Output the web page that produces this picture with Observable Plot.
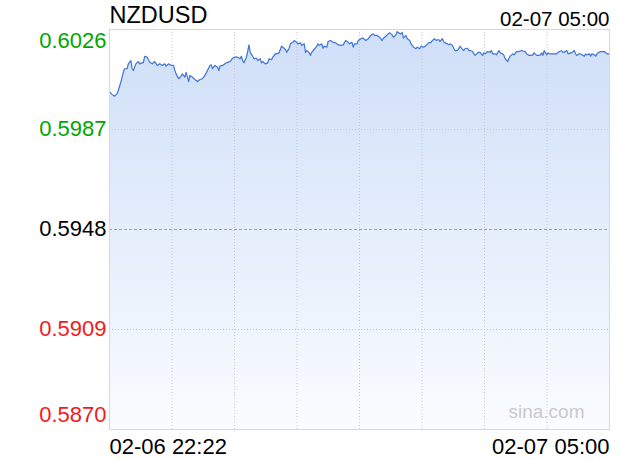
<!DOCTYPE html>
<html><head><meta charset="utf-8">
<script src="https://cdn.jsdelivr.net/npm/d3@7"></script>
<script src="https://cdn.jsdelivr.net/npm/@observablehq/plot@0.6"></script>
<style>html,body{margin:0;padding:0;background:#fff}</style>
</head><body><div id="chart"></div>
<script>
const symbol = "NZDUSD";
const startLabel = "02-06 22:22";
const endLabel = "02-07 05:00";
const watermark = "sina.com";
const prevClose = 0.5948;
const yTicks = [0.6026, 0.5987, 0.5948, 0.5909, 0.5870];

// minutes after 02-06 22:22
const minutesFromStart = [
0,2,4,6,7,9,11,12,14,15,17,18,19,21,23,24,27,28,30,32,34,36,38,40,42,44,45,47,49,51,52,53,55,57,58,60,61,63,64,66,68,70,72,74,76,78,80,81,82,84,86,87,88,90,92,94,96,98,100,
102,104,105,106,107,109,110,111,112,114,115,117,118,120,121,122,124,126,127,129,130,132,133,135,137,139,140,141,143,144,146,147,149,150,152,153,155,156,157,159,160,161,163,165,166,167,169,170,171,173,174,176,178,180,182,184,186,188,190,191,193,194,195,
197,198,201,202,204,206,208,210,211,213,215,217,218,220,222,223,225,226,228,229,230,232,233,234,236,237,239,240,242,244,245,247,248,250,252,254,256,257,259,260,262,263,265,266,267,269,270,271,273,274,275,277,278,279,281,282,283,285,286,287,289,290,291,293,294,
295,297,298,299,301,303,304,305,307,308,310,311,313,314,315,317,318,319,321,322,324,326,328,330,331,332,334,336,337,338,340,342,343,344,345,346,348,349,350,352,354,356,358,360,361,362,364,365,367,368,370,371,372,374,375,376,378,379,380,382,383,384,386,387,388,389,391,393,394,396,397,398
];
const prices = [
.60016,.60007,.60000,.60009,.60022,.60054,.60093,.60107,.60107,.60126,.60139,.60107,.60100,.60126,.60135,.60126,.60132,.60155,.60152,.60132,.60126,.60135,.60120,.60126,.60120,.60126,.60117,.60126,.60120,.60120,.60100,.60087,.60068,.60078,.60087,.60074,.60093,.60057,.60081,.60074,.60065,.60057,.60065,.60068,.60081,.60100,.60120,.60122,.60107,.60120,.60113,.60100,.60117,.60120,.60126,.60132,.60135,.60148,.60152,
.60152,.60146,.60156,.60139,.60130,.60152,.60174,.60200,.60171,.60156,.60146,.60148,.60139,.60146,.60130,.60135,.60126,.60130,.60146,.60142,.60152,.60165,.60165,.60169,.60195,.60187,.60182,.60171,.60187,.60204,.60210,.60217,.60210,.60204,.60208,.60198,.60204,.60171,.60178,.60169,.60159,.60171,.60182,.60195,.60204,.60198,.60204,.60187,.60195,.60191,.60213,.60217,.60210,.60208,.60200,.60198,.60200,.60217,.60210,.60204,.60210,.60191,.60204,
.60204,.60217,.60226,.60226,.60217,.60224,.60237,.60243,.60237,.60237,.60230,.60217,.60226,.60234,.60243,.60247,.60239,.60230,.60239,.60252,.60247,.60243,.60249,.60226,.60237,.60224,.60217,.60204,.60191,.60185,.60191,.60185,.60195,.60191,.60198,.60208,.60210,.60217,.60224,.60217,.60221,.60213,.60224,.60213,.60208,.60204,.60200,.60204,.60198,.60187,.60178,.60178,.60185,.60195,.60182,.60178,.60185,.60187,.60178,.60178,.60174,.60165,.60159,.60169,.60171,
.60171,.60159,.60169,.60165,.60174,.60171,.60178,.60165,.60165,.60161,.60178,.60169,.60165,.60159,.60146,.60135,.60148,.60156,.60165,.60161,.60174,.60174,.60178,.60174,.60174,.60165,.60159,.60159,.60161,.60169,.60159,.60159,.60161,.60169,.60159,.60178,.60161,.60169,.60165,.60165,.60165,.60165,.60174,.60177,.60171,.60171,.60178,.60165,.60169,.60169,.60178,.60165,.60159,.60165,.60165,.60161,.60156,.60165,.60161,.60165,.60156,.60165,.60161,.60156,.60165,.60169,.60174,.60174,.60174,.60165,.60165,.60165
];

const start = new Date(2024, 1, 6, 22, 22);
const end = new Date(2024, 1, 7, 5, 0);
const data = minutesFromStart.map((m, i) => ({t: new Date(+start + m * 60000), v: prices[i]}));
const yMin = d3.min(yTicks), yMax = d3.max(yTicks);
const gridTimes = d3.range(1, 8).map(i => new Date(+start + (end - start) * i / 8));
const tickColor = v => v > prevClose ? "#00a600" : v < prevClose ? "#f21a1a" : "#000000";

const gradientDefs = () => {
  const ns = "http://www.w3.org/2000/svg";
  const defs = document.createElementNS(ns, "defs");
  const g = document.createElementNS(ns, "linearGradient");
  g.setAttribute("id", "areaGrad");
  g.setAttribute("x1", "0"); g.setAttribute("y1", "0");
  g.setAttribute("x2", "0"); g.setAttribute("y2", "1");
  [["0", "#cfdff8"], ["1", "#fafcff"]].forEach(([o, c]) => {
    const s = document.createElementNS(ns, "stop");
    s.setAttribute("offset", o); s.setAttribute("stop-color", c);
    g.appendChild(s);
  });
  defs.appendChild(g);
  return defs;
};

const font = "'Liberation Sans', Arial, Helvetica, sans-serif";
const chart = Plot.plot({
  width: 620,
  height: 460,
  marginTop: 29,
  marginRight: 11,
  marginBottom: 31,
  marginLeft: 109,
  style: {fontFamily: font, background: "#fff", overflow: "visible"},
  x: {type: "time", domain: [start, end], axis: null},
  y: {domain: [yMin, yMax], axis: null},
  marks: [
    gradientDefs,
    Plot.areaY(data, {x: "t", y1: yMin, y2: "v", fill: "url(#areaGrad)"}),
    Plot.ruleX(gridTimes, {stroke: "#c8c8c8", strokeDasharray: "1,2"}),
    Plot.ruleY(yTicks.filter(v => v !== prevClose && v !== yMin && v !== yMax), {stroke: "#c8c8c8", strokeDasharray: "1,2"}),
    Plot.ruleY([prevClose], {stroke: "#9c9cc0", strokeDasharray: "3,2"}),
    Plot.lineY(data, {x: "t", y: "v", stroke: "#4176d4", strokeWidth: 1.2}),
    Plot.frame({stroke: "#d8d8d8"}),
    Plot.text([yMax], {y: d => d, text: d => d.toFixed(4), fill: tickColor(yMax), frameAnchor: "left", textAnchor: "end", lineAnchor: "bottom", dx: -3, dy: 18, fontSize: 22}),
    Plot.text(yTicks.filter(v => v !== yMin && v !== yMax), {y: d => d, text: d => d.toFixed(4), fill: d => tickColor(d), frameAnchor: "left", textAnchor: "end", dx: -3, dy: -1, fontSize: 22}),
    Plot.text([yMin], {y: d => d, text: d => d.toFixed(4), fill: tickColor(yMin), frameAnchor: "left", textAnchor: "end", lineAnchor: "bottom", dx: -3, dy: -7.5, fontSize: 22}),
    Plot.text([symbol], {text: d => d, frameAnchor: "top-left", textAnchor: "start", lineAnchor: "bottom", dy: -6.5, fontSize: 23.5, fill: "#000"}),
    Plot.text([endLabel], {text: d => d, frameAnchor: "top-right", textAnchor: "end", lineAnchor: "bottom", dy: -4, fontSize: 20.5, fill: "#000"}),
    Plot.text([startLabel], {text: d => d, frameAnchor: "bottom-left", textAnchor: "start", lineAnchor: "bottom", dy: 24.5, fontSize: 22, fill: "#000"}),
    Plot.text([endLabel], {text: d => d, frameAnchor: "bottom-right", textAnchor: "end", lineAnchor: "bottom", dy: 24.5, fontSize: 22, fill: "#000"}),
    Plot.text([watermark], {text: d => d, frameAnchor: "bottom-right", textAnchor: "end", lineAnchor: "bottom", dx: -25, dy: -12, fontSize: 19, fill: "#cacaca"})
  ]
});
document.getElementById("chart").appendChild(chart);
</script>
</body></html>
